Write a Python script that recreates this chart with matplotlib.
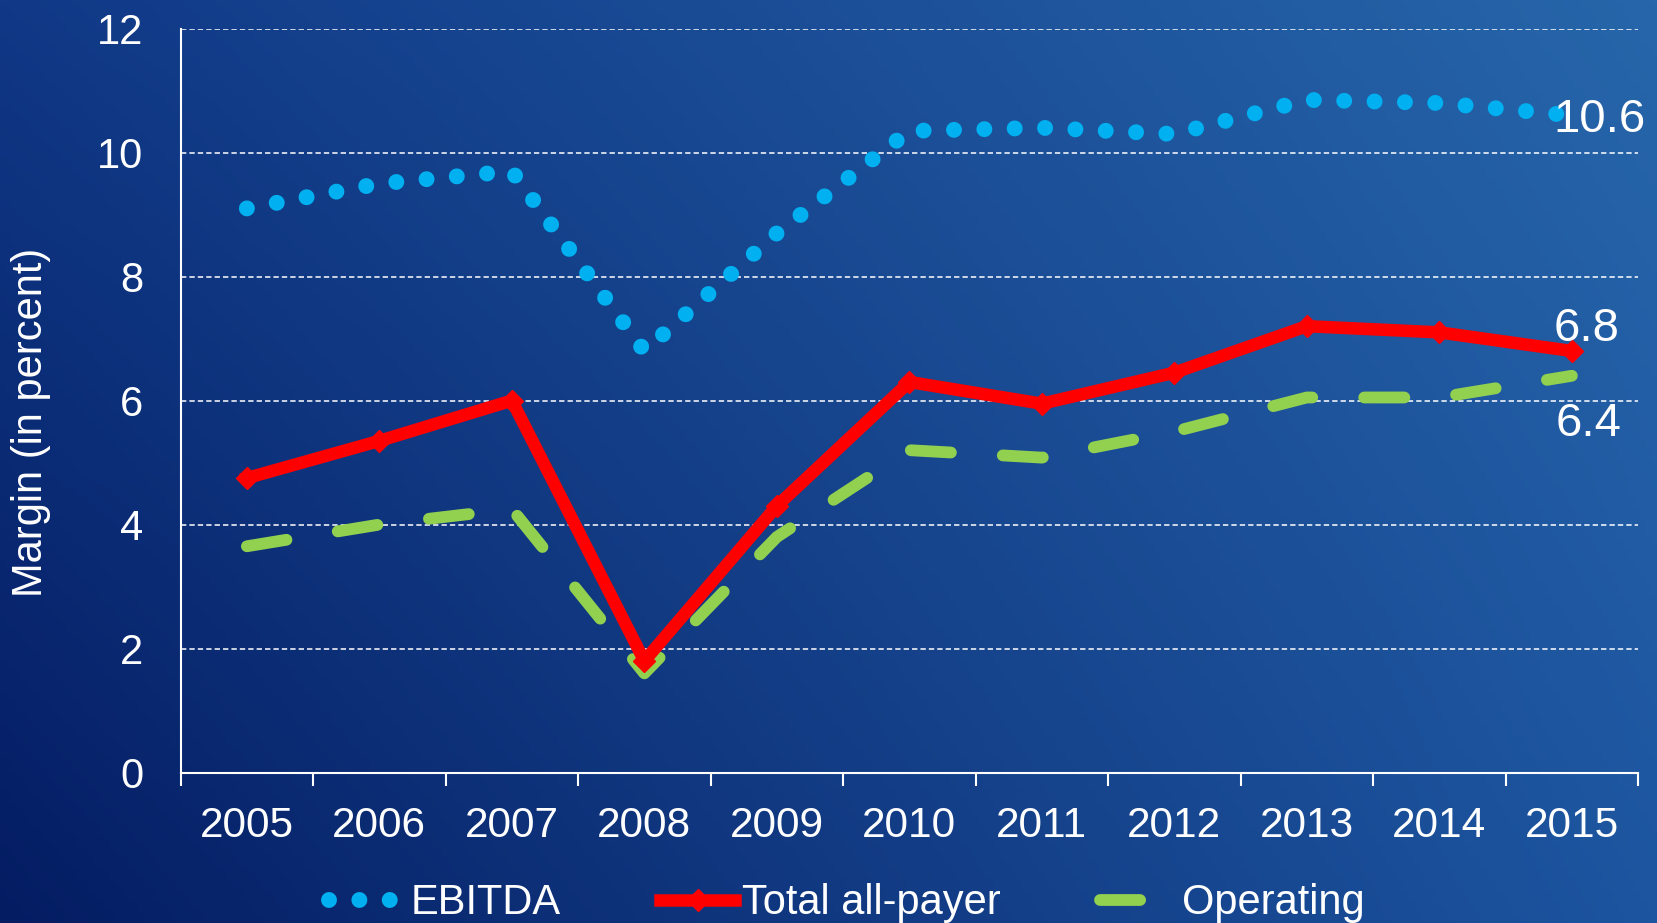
import matplotlib
matplotlib.use("Agg")
from matplotlib import pyplot as plt
import numpy as np

years = ['2005', '2006', '2007', '2008', '2009', '2010', '2011', '2012', '2013', '2014', '2015']
ebitda = [9.1, 9.5, 9.7, 6.8, 8.7, 10.35, 10.4, 10.3, 10.85, 10.8, 10.6]
total = [4.75, 5.35, 6.0, 1.8, 4.3, 6.3, 5.95, 6.45, 7.2, 7.1, 6.8]
operating = [3.65, 4.0, 4.25, 1.6, 3.8, 5.2, 5.08, 5.5, 6.05, 6.05, 6.4]
end_labels = ['10.6', '6.8', '6.4']

plt.rcParams['font.family'] = ['Liberation Sans', 'DejaVu Sans']

fig = plt.figure(figsize=(16.57, 9.23), dpi=100)

# background gradient (corner colours)
bg = fig.add_axes([0, 0, 1, 1], zorder=-10)
tl = np.array([0x10, 0x38, 0x86]) / 255
tr = np.array([0x27, 0x66, 0xaa]) / 255
bl = np.array([0x04, 0x1c, 0x62]) / 255
br = np.array([0x1d, 0x55, 0xa0]) / 255
u = np.linspace(0, 1, 300)[None, :, None]
v = np.linspace(0, 1, 200)[:, None, None]
img = (1 - v) * ((1 - u) * tl + u * tr) + v * ((1 - u) * bl + u * br)
bg.imshow(img, aspect='auto', extent=[0, 1, 0, 1])
bg.axis('off')

ax = fig.add_axes([0.109, 0.163, 0.8796, 0.806])
ax.patch.set_alpha(0)
x = np.arange(len(years))

l1, = ax.plot(x, ebitda, color='#00b0f0', lw=11.5, dashes=(0.001, 1.9),
              dash_capstyle='round', label='EBITDA', zorder=3)
l2, = ax.plot(x, total, color='#ff0000', lw=9, marker='D', markersize=11,
              solid_joinstyle='miter', label='Total all-payer', zorder=4)
l3, = ax.plot(x, operating, color='#92d050', lw=8.5, dashes=(3.4, 4.4),
              dash_capstyle='round', label='Operating', zorder=2)

ax.set_xlim(-0.5, len(years) - 0.5)
ax.set_ylim(0, 12)
ax.set_yticks(range(0, 13, 2))
ax.set_xticks(x)
ax.set_xticklabels(years)
ax.set_xticks(np.arange(-0.5, len(years), 1), minor=True)
ax.tick_params(axis='x', which='major', length=0, pad=24, labelsize=30.5, labelcolor='white')
ax.tick_params(axis='x', which='minor', length=9, width=1.5, color='white', direction='out')
ax.tick_params(axis='y', length=0, pad=27, labelsize=30, labelcolor='white')

for s in ['top', 'right']:
    ax.spines[s].set_visible(False)
for s in ['left', 'bottom']:
    ax.spines[s].set_color('white')
    ax.spines[s].set_linewidth(1.5)

for yv in range(2, 13, 2):
    ax.axhline(yv, color='white', lw=1.1, dashes=(3.5, 2), zorder=1)

# end-of-line value labels
last = len(years) - 1
ax.text(last - 0.14, ebitda[-1] - 0.08, end_labels[0], color='white', fontsize=34,
        va='center', ha='left', zorder=5)
ax.text(last - 0.14, total[-1] + 0.35, end_labels[1], color='white', fontsize=34,
        va='center', ha='left', zorder=5)
ax.text(last - 0.12, operating[-1] - 0.77, end_labels[2], color='white', fontsize=34,
        va='center', ha='left', zorder=5)

fig.text(0.019, 0.542, 'Margin (in percent)', rotation=90, color='white',
         fontsize=30, ha='center', va='center')

leg = fig.legend(handles=[l1, l2, l3], loc='center', bbox_to_anchor=(0.511, 0.0215),
                 ncol=3, frameon=False, fontsize=30, handlelength=1.8,
                 handletextpad=0.15, columnspacing=2.4)
for t in leg.get_texts():
    t.set_color('white')

fig.savefig('out.png', dpi=100)
